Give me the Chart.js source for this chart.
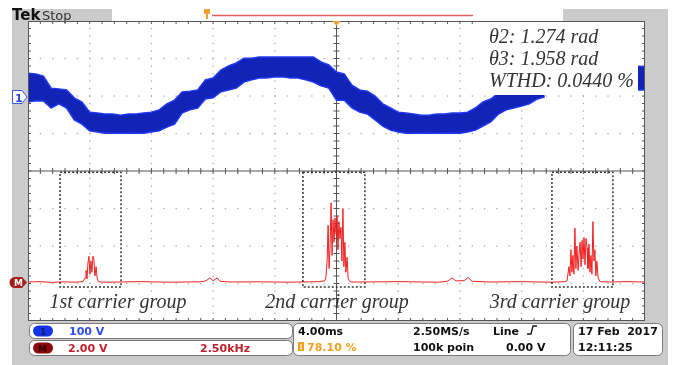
<!DOCTYPE html>
<html>
<head>
<meta charset="utf-8">
<style>
  html, body { margin: 0; padding: 0; background: #fff; }
  #wrap { width: 676px; height: 365px; }
</style>
</head>
<body>
<div id="wrap"><canvas id="scope" width="676" height="365"></canvas></div>
<script src="https://cdn.jsdelivr.net/npm/chart.js@4.4.0/dist/chart.umd.min.js"></script>
<script>
// channel 1: 4 ms/div, 100 V/div. band edges of the noisy staircase output (V)
const timeMs = [0, 0.5, 1, 1.5, 2, 2.5, 3, 3.5, 4, 4.5, 5, 5.5, 6, 6.5, 7, 7.5, 8, 8.5, 9, 9.5,
  10, 10.5, 11, 11.5, 12, 12.5, 13, 13.5, 14, 14.5, 15, 15.5, 16, 16.5, 17, 17.5, 18, 18.5, 19, 19.5,
  20, 20.5, 21, 21.5, 22, 22.5, 23, 23.5, 24, 24.5, 25, 25.5, 26, 26.5, 27, 27.5, 28, 28.5, 29, 29.5,
  30, 30.5, 31, 31.5, 32, 32.5, 33, 33.5, 34, 34.5, 35, 35.5, 36, 36.5, 37, 37.5, 38, 38.5, 39, 39.5, 40];
const ch1Top = [61, 59, 53, 21, 19, 16, -5, -16, -43, -45, -48, -48, -51, -48, -48, -45, -43, -37, -21, -11,
  11, 13, 16, 43, 48, 69, 80, 88, 101, 101, 104, 104, 104, 104, 104, 104, 104, 104, 91, 83,
  64, 59, 29, 16, 13, 0, -21, -32, -43, -45, -48, -51, -51, -48, -48, -45, -45, -43, -32, -16,
  -8, 8, 11, 13, 13, 16, 43, 51, null, null, null, null, null, null, null, null, null, null, null, 80, 77];
const ch1Bottom = [-16, -13, -13, -32, -21, -32, -64, -75, -93, -96, -99, -99, -99, -99, -99, -99, -96, -93, -83, -75,
  -45, -37, -32, -8, -5, 11, 16, 21, 37, 43, 48, 48, 51, 51, 48, 48, 43, 37, 27, 21,
  -11, -11, -32, -43, -48, -64, -80, -91, -96, -99, -99, -99, -99, -99, -99, -99, -99, -96, -91, -80,
  -69, -48, -37, -32, -27, -21, -8, -3, null, null, null, null, null, null, null, null, null, null, null, 16, 16];

// math channel M: FFT, 2.50 kHz/div, 2.00 V/div
const fftKHz = [0, 0.49, 0.97, 1.46, 1.94, 2.23, 2.31, 2.35, 2.39, 2.43, 2.47, 2.51, 2.55, 2.59, 2.63, 2.67, 2.71, 2.76, 2.80, 2.84, 2.92,
  3.32, 4.54, 5.75, 6.97, 7.21, 7.37, 7.50, 7.66, 7.78, 8.18, 9.40, 10.62, 11.83, 12.03,
  12.07, 12.12, 12.16, 12.20, 12.24, 12.28, 12.32, 12.36, 12.40, 12.44, 12.48, 12.52, 12.56, 12.60, 12.64, 12.68, 12.72, 12.76, 12.80, 12.84, 12.88, 12.93, 12.97, 13.01, 13.09,
  13.45, 15.07, 16.69, 17.02, 17.18, 17.34, 17.67, 17.83, 17.99, 18.72, 19.94, 21.15, 21.76,
  21.84, 21.92, 21.96, 22.00, 22.04, 22.08, 22.12, 22.16, 22.20, 22.24, 22.29, 22.33, 22.37, 22.41, 22.45, 22.49, 22.53, 22.57, 22.61, 22.65, 22.69, 22.73, 22.77, 22.81, 22.85, 22.89, 22.93, 22.97, 23.01, 23.05, 23.10, 23.18,
  23.58, 24.19, 25];
const fftVolts = [0.08, 0.1, 0.06, 0.09, 0.07, 0.1, 0.3, 0.7, 0.25, 1.1, 1.45, 0.5, 1.2, 0.6, 1.45, 1.3, 0.4, 0.9, 0.3, 0.12, 0.08,
  0.07, 0.1, 0.07, 0.09, 0.14, 0.3, 0.15, 0.3, 0.12, 0.08, 0.09, 0.07, 0.1, 0.15,
  0.3, 1.2, 3.1, 0.8, 2.0, 4.3, 1.5, 3.4, 2.2, 3.5, 2.6, 3.6, 1.8, 3.3, 2.4, 3.0, 1.2, 4.0, 0.9, 2.2, 0.6, 1.4, 0.3, 0.15, 0.08,
  0.08, 0.1, 0.07, 0.13, 0.3, 0.14, 0.15, 0.32, 0.12, 0.08, 0.1, 0.07, 0.1,
  0.15, 0.9, 0.4, 1.8, 0.6, 1.5, 0.5, 2.95, 0.8, 2.0, 0.7, 1.6, 2.2, 0.9, 2.3, 1.3, 2.45, 1.0, 2.4, 1.9, 0.8, 2.1, 0.6, 1.5, 0.5, 3.3, 1.2, 1.8, 0.4, 1.2, 0.3, 0.1,
  0.08, 0.1, 0.08];

// carrier group windows (kHz) and their labels
const groupStart = [1.30, 11.14, 21.23];
const groupEnd = [3.77, 13.65, 23.70];
const groupLabels = ['1st carrier group', '2nd carrier group', '3rd carrier group'];
const readouts = ['\u03b82: 1.274 rad', '\u03b83: 1.958 rad', 'WTHD: 0.0440 %'];

function pill(c, x, y, w, h, r) {
  c.beginPath();
  c.moveTo(x + r, y);
  c.arcTo(x + w, y, x + w, y + h, r);
  c.arcTo(x + w, y + h, x, y + h, r);
  c.arcTo(x, y + h, x, y, r);
  c.arcTo(x, y, x + w, y, r);
  c.closePath();
}

const frame = {
  id: 'frame',
  beforeDraw(chart) {
    const c = chart.ctx, a = chart.chartArea;
    c.save();
    c.fillStyle = '#fff';
    c.fillRect(0, 0, chart.width, chart.height);
    c.fillStyle = '#cbcbcb';
    c.fillRect(12, 9, 656, 356);
    c.fillStyle = '#fff';
    c.fillRect(112, 9, 451, 13);
    c.fillRect(a.left, a.top, a.right - a.left, a.bottom - a.top);
    // record view bar
    c.strokeStyle = '#e06060';
    c.lineWidth = 1.5;
    c.beginPath(); c.moveTo(212, 15.5); c.lineTo(473, 15.5); c.stroke();
    c.fillStyle = '#f0a030';
    c.fillRect(204, 9, 6, 5);
    c.fillRect(206, 14, 2, 5);
    // Tek Stop
    c.fillStyle = '#111';
    c.font = 'bold 15px "DejaVu Sans"';
    c.fillText('Tek', 12, 20);
    c.fillStyle = '#333';
    c.font = '13px "DejaVu Sans"';
    c.fillText('Stop', 42, 20);
    c.restore();
  },
  beforeDatasetsDraw(chart) {
    const c = chart.ctx, a = chart.chartArea;
    const dx = (a.right - a.left) / 10, dy = (a.bottom - a.top) / 8;
    c.save();
    c.fillStyle = '#a8a8a8';
    for (let i = 1; i < 10; i++) {
      if (i === 5) continue;
      const x = a.left + i * dx;
      for (let k = 1; k < 40; k++) c.fillRect(x - 0.6, a.top + k * dy / 5 - 0.6, 1.3, 1.3);
    }
    for (let j = 1; j < 8; j++) {
      if (j === 4) continue;
      const y = a.top + j * dy;
      for (let k = 1; k < 50; k++) c.fillRect(a.left + k * dx / 5 - 0.6, y - 0.6, 1.3, 1.3);
    }
    const cx = a.left + 5 * dx, cy = a.top + 4 * dy;
    c.strokeStyle = '#555';
    c.lineWidth = 1;
    c.beginPath();
    c.moveTo(a.left, cy); c.lineTo(a.right, cy);
    c.moveTo(cx, a.top); c.lineTo(cx, a.bottom);
    for (let k = 1; k < 50; k++) {
      const x = a.left + k * dx / 5;
      c.moveTo(x, cy - 3); c.lineTo(x, cy + 3);
      c.moveTo(x, a.top); c.lineTo(x, a.top + 3);
      c.moveTo(x, a.bottom); c.lineTo(x, a.bottom - 3);
    }
    for (let k = 1; k < 40; k++) {
      const y = a.top + k * dy / 5;
      c.moveTo(cx - 3, y); c.lineTo(cx + 3, y);
      c.moveTo(a.left, y); c.lineTo(a.left + 3, y);
      c.moveTo(a.right, y); c.lineTo(a.right - 3, y);
    }
    c.stroke();
    c.restore();
  },
  afterDatasetsDraw(chart) {
    const c = chart.ctx, a = chart.chartArea;
    const xF = chart.scales.xF, yM = chart.scales.yM;
    c.save();
    // readout text box
    c.fillStyle = '#fff';
    c.fillRect(481, a.top + 1, 157, 73);
    c.fillStyle = '#333';
    c.font = 'italic 20px "Liberation Serif"';
    readouts.forEach((t, i) => c.fillText(t, 489, 43 + i * 22));
    // carrier group windows
    c.strokeStyle = '#333';
    c.lineWidth = 1.5;
    c.setLineDash([2, 2]);
    const top = yM.getPixelForValue(5.94), bot = yM.getPixelForValue(-0.19);
    groupStart.forEach((s, i) => {
      const x0 = xF.getPixelForValue(s), x1 = xF.getPixelForValue(groupEnd[i]);
      c.strokeRect(x0, top, x1 - x0, bot - top);
    });
    c.setLineDash([]);
    c.fillStyle = '#333';
    c.font = 'italic 20px "Liberation Serif"';
    c.textAlign = 'center';
    [118, 337, 560].forEach((x, i) => c.fillText(groupLabels[i], x, 308));
    c.textAlign = 'left';
    // border
    c.strokeStyle = '#555';
    c.lineWidth = 1;
    c.strokeRect(a.left + 0.5, a.top + 0.5, a.right - a.left - 1, a.bottom - a.top - 1);
    // trigger marker
    const cx = (a.left + a.right) / 2;
    c.fillStyle = '#f0a030';
    c.beginPath(); c.moveTo(cx - 4, a.top); c.lineTo(cx + 4, a.top); c.lineTo(cx, a.top + 5); c.closePath(); c.fill();
    // channel markers
    c.fillStyle = '#fff';
    c.strokeStyle = '#3a58e8';
    c.beginPath(); c.moveTo(12.5, 90.5); c.lineTo(22, 90.5); c.lineTo(27, 97); c.lineTo(22, 103.5); c.lineTo(12.5, 103.5); c.closePath();
    c.fill(); c.stroke();
    c.fillStyle = '#2a48e0';
    c.font = 'bold 11px "DejaVu Sans"';
    c.fillText('1', 15, 101.5);
    c.fillStyle = '#a81c1c';
    c.beginPath(); c.moveTo(15, 277); c.lineTo(22, 277); c.lineTo(27, 282.5); c.lineTo(22, 288); c.lineTo(15, 288); c.arc(15, 282.5, 5.5, Math.PI / 2, Math.PI * 1.5); c.closePath(); c.fill();
    c.fillStyle = '#fff';
    c.font = 'bold 9px "DejaVu Sans"';
    c.fillText('M', 14, 286);
    // status bar
    c.strokeStyle = '#7a7a7a';
    c.fillStyle = '#fff';
    [[29.5, 323.5, 263, 15], [29.5, 340.5, 263, 15], [293.5, 323.5, 277, 32], [573.5, 323.5, 89, 32]].forEach(b => {
      pill(c, b[0], b[1], b[2], b[3], 5); c.fill(); c.stroke();
    });
    c.fillStyle = '#1434e6';
    pill(c, 33, 325.5, 20, 11, 5.5); c.fill();
    c.fillStyle = '#8c0a0a';
    pill(c, 33, 342.5, 20, 11, 5.5); c.fill();
    c.font = 'bold 9px "DejaVu Sans"';
    c.fillStyle = '#0a1a60';
    c.fillText('1', 40, 334.5);
    c.fillStyle = '#3a0000';
    c.fillText('M', 38, 351.5);
    c.font = 'bold 11px "DejaVu Sans"';
    c.fillStyle = '#2d4cf0';
    c.fillText('100 V', 69, 335);
    c.fillStyle = '#c0202c';
    c.fillText('2.00 V', 68, 352);
    c.fillText('2.50kHz', 200, 352);
    c.fillStyle = '#111';
    c.fillText('4.00ms', 298, 334.5);
    c.fillText('2.50MS/s', 413, 334.5);
    c.fillText('100k poin', 413, 351);
    c.fillText('Line', 493, 334.5);
    c.fillText('0.00 V', 506, 351);
    c.fillText('17 Feb  2017', 578, 334.5);
    c.fillText('12:11:25', 578, 351);
    c.strokeStyle = '#111';
    c.lineWidth = 1.3;
    c.beginPath(); c.moveTo(527, 334); c.lineTo(531, 334); c.lineTo(533, 326); c.lineTo(537, 326); c.stroke();
    c.fillStyle = '#f0a020';
    c.fillRect(298, 342, 6, 9);
    c.fillStyle = '#fff';
    c.fillRect(300.5, 344, 1, 6);
    c.fillStyle = '#f0a020';
    c.fillText('78.10 %', 307, 351);
    c.restore();
  }
};

const ch1Data = arr => timeMs.map((t, i) => ({ x: t, y: arr[i] }));

new Chart(document.getElementById('scope'), {
  type: 'scatter',
  data: {
    datasets: [
      {
        data: ch1Data(ch1Bottom), xAxisID: 'xT', yAxisID: 'yV',
        showLine: true, borderColor: '#2038f0', borderWidth: 1.5, pointRadius: 0, fill: false
      },
      {
        data: ch1Data(ch1Top), xAxisID: 'xT', yAxisID: 'yV',
        showLine: true, borderColor: '#2038f0', borderWidth: 1.5, pointRadius: 0,
        fill: '-1', backgroundColor: '#1224b8'
      },
      {
        data: fftKHz.map((f, i) => ({ x: f, y: fftVolts[i] })), xAxisID: 'xF', yAxisID: 'yM',
        showLine: true, borderColor: '#f02020', borderWidth: 1, pointRadius: 0, fill: false
      }
    ]
  },
  options: {
    responsive: false,
    animation: false,
    devicePixelRatio: 1,
    layout: { padding: { left: 28, right: 31, top: 21, bottom: 44 } },
    plugins: { legend: { display: false }, tooltip: { enabled: false } },
    scales: {
      xT: { type: 'linear', min: 0, max: 40, display: false },
      xF: { type: 'linear', min: 0, max: 25, display: false },
      yV: { type: 'linear', min: -600, max: 200, display: false },
      yM: { type: 'linear', min: -2, max: 14, display: false }
    }
  },
  plugins: [frame]
});
</script>
</body>
</html>
